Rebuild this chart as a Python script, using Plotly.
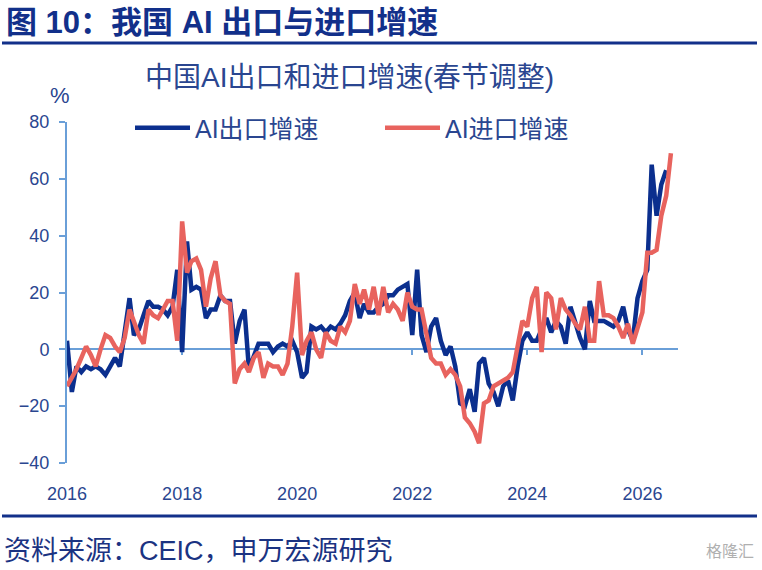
import pandas as pd
import plotly.graph_objects as go

# ---- data (monthly, 2016-01 .. 2026-07) ----
months = pd.date_range("2016-01-01", periods=127, freq="MS")

export_growth = [
    3, -15, -6, -8, -6, -7, -6, -7, -9, -6, -3, -6,          # 2016
    5, 18, 5, 7, 12, 17, 15, 15, 14, 12, 15, 28,             # 2017
    -1, 38, 21, 22, 21, 11, 14, 14, 19, 17, 17, 2,           # 2018
    10, 14, -7, -2, 2, 2, 2, -1, 1, 2, 1, 3,                 # 2019
    -1, -10, -8, 8, 7, 8, 6, 8, 7, 9, 12, 17,                # 2020
    20, 11, 16, 13, 13, 15, 16, 19, 19, 21, 22, 23,          # 2021
    5, 28, 5, -1, 8, 11, 3, -2, 1, -6, -19, -20,             # 2022
    -14, -22, -5, -3, -12, -15, -20, -13, -11, -18, -6, 3,   # 2023
    6, 3, 3, 7, 11, 6, 10, 8, 2, 15, 9, 4,                   # 2024
    0, 17, 10, 10, 10, 9, 8, 10, 15, 7, 3, 18,               # 2025
    24, 28, 65, 47, 58, 63, None,                            # 2026
]

import_growth = [
    -13, -10, -7, -3, 1, -2, -6, 0, 5, 4, 1, -1,             # 2016
    4, 14, 10, 5, 2, 14, 12, 11, 14, 17, 17, 3,              # 2017
    45, 27, 31, 32, 28, 15, 25, 31, 19, 17, 16, -12,         # 2018
    -7, -5, -8, -3, -1, -10, -5, -6, -6, -9, -5, 8,          # 2019
    27, -2, 3, 6, 0, -3, 6, 3, 2, 8, 6, 10,                  # 2020
    23, 16, 21, 14, 22, 12, 22, 13, 16, 14, 10, 20,          # 2021
    15, 14, 14, 6, -3, -5, -5, -9, -7, -9, -13, -24,         # 2022
    -26, -29, -33, -19, -18, -13, -12, -11, -10, -8, 1, 10,  # 2023
    8, 18, 22, -1, 20, 18, 7, 18, 14, 12, 9, 7,              # 2024
    15, 3, 3, 24, 12, 12, 11, 8, 4, 9, 2, 8,                 # 2025
    13, 34, 34, 35, 47, 54, 69,                              # 2026
]

y_ticks = [-40, -20, 0, 20, 40, 60, 80]
x_tick_years = ["2016", "2018", "2020", "2022", "2024", "2026"]

series_names = ["AI出口增速", "AI进口增速"]
NAVY = "#0B2F8E"
RED = "#E8635E"
AXIS = "#6A9FD8"
TEXT = "#2A4690"
RULE = "#12308A"
FONT = "Liberation Sans, Noto Sans CJK SC, sans-serif"

x_range = ["2016-01-01", "2026-08-15"]
tickvals = [f"{y}-01-01" for y in x_tick_years]

fig = go.Figure()
fig.add_trace(go.Scatter(x=months, y=export_growth, name=series_names[0], mode="lines",
                         line=dict(color=NAVY, width=4.5), connectgaps=False,
                         xaxis="x", yaxis="y"))
fig.add_trace(go.Scatter(x=months, y=import_growth, name=series_names[1], mode="lines",
                         line=dict(color=RED, width=4.5),
                         xaxis="x2", yaxis="y"))

W, H = 762, 570
L, R, T, B = 67, 678, 122, 463
pw, ph = R - L, B - T


def px(x):
    return (x - L) / pw


def py(y):
    return (B - y) / ph


fig.update_layout(
    width=W, height=H,
    margin=dict(l=L, r=W - R, t=T, b=H - B, pad=0),
    paper_bgcolor="white", plot_bgcolor="white",
    font=dict(family=FONT, color=TEXT),
    showlegend=True,
    legend=dict(orientation="h", x=px(130), y=py(128), xanchor="left", yanchor="middle",
                font=dict(size=25, color=TEXT, family=FONT),
                itemwidth=55, entrywidth=180, bgcolor="rgba(0,0,0,0)",
                tracegroupgap=0),
    xaxis=dict(type="date", range=x_range, showgrid=False, zeroline=False, showline=False,
               tickvals=tickvals, ticktext=x_tick_years, ticks="outside", ticklen=14,
               tickcolor="rgba(0,0,0,0)", tickfont=dict(size=18, color=TEXT, family=FONT)),
    xaxis2=dict(type="date", range=x_range, overlaying="x", anchor="free",
                position=(0 - y_ticks[0]) / (y_ticks[-1] - y_ticks[0]),
                showgrid=False, zeroline=False, showline=False, showticklabels=False,
                tickvals=tickvals, ticks="outside", ticklen=5, tickwidth=2,
                tickcolor=AXIS, layer="below traces"),
    yaxis=dict(range=[y_ticks[0], y_ticks[-1]], tickvals=y_ticks, showgrid=False,
               zeroline=True, zerolinecolor=AXIS, zerolinewidth=2,
               showline=True, linecolor=AXIS, linewidth=2, ticks="outside", ticklen=6,
               tickwidth=2, tickcolor=AXIS, tickfont=dict(size=18, color=TEXT, family=FONT),
               ticklabelstandoff=6),
)

fig.add_annotation(text="<b>图 10：我国 AI 出口与进口增速</b>", xref="paper", yref="paper",
                   x=px(4), y=py(22), xanchor="left", yanchor="middle", showarrow=False,
                   font=dict(size=31, color=RULE, family=FONT))
fig.add_shape(type="rect", xref="paper", yref="paper", x0=px(2), x1=px(757),
              y0=py(41.5), y1=py(44.5), fillcolor=RULE, line=dict(width=0), layer="above")
fig.add_annotation(text="中国AI出口和进口增速(春节调整)", xref="paper", yref="paper",
                   x=px(349), y=py(78), xanchor="center", yanchor="middle", showarrow=False,
                   font=dict(size=28, color=TEXT, family=FONT))
fig.add_annotation(text="%", xref="paper", yref="paper",
                   x=px(60), y=py(95), xanchor="center", yanchor="middle", showarrow=False,
                   font=dict(size=22, color=TEXT, family=FONT))
fig.add_shape(type="rect", xref="paper", yref="paper", x0=px(2), x1=px(757),
              y0=py(514.5), y1=py(517.5), fillcolor=RULE, line=dict(width=0), layer="above")
fig.add_annotation(text="资料来源：CEIC，申万宏源研究", xref="paper", yref="paper",
                   x=px(2), y=py(551), xanchor="left", yanchor="middle", showarrow=False,
                   font=dict(size=27, color="#1B3382", family=FONT))
fig.add_annotation(text="格隆汇", xref="paper", yref="paper",
                   x=px(756), y=py(551), xanchor="right", yanchor="middle", showarrow=False,
                   font=dict(size=16, color="#B0B0B0", family=FONT))

fig.write_html("out.html", config={"displayModeBar": False},
               post_script="document.body.style.margin='0';document.body.style.padding='0';")
